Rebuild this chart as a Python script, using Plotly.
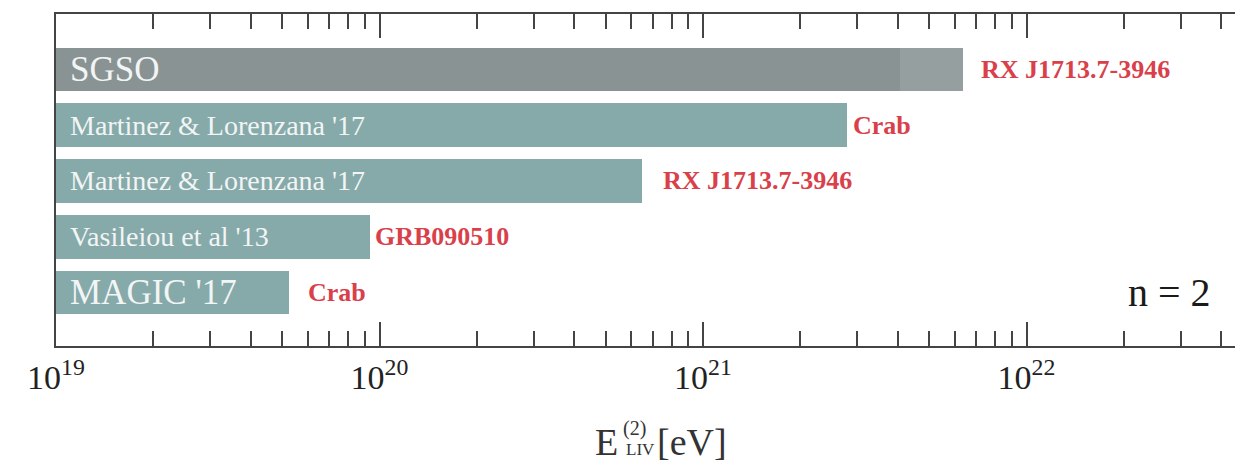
import plotly.graph_objects as go
import numpy as np

# ---- data (bottom to top) ----
labels = ["MAGIC '17", "Vasileiou et al '13", "Martinez & Lorenzana '17",
          "Martinez & Lorenzana '17", "SGSO"]
sources = ["Crab", "GRB090510", "RX J1713.7-3946", "Crab", "RX J1713.7-3946"]
e_liv = [5.25e19, 9.35e19, 6.48e20, 2.79e21, 4.06e21]
sgso_extended = 6.37e21
decades = [19, 20, 21, 22]

# ---- styles ----
base = 1e19
label_sizes = [35, 28, 28, 28, 35]
source_gaps = [17, 3, 19, 4, 16]
bar_colors = ["#86aaa9", "#86aaa9", "#86aaa9", "#86aaa9", "#8a9393"]
serif = "Liberation Serif, Times New Roman, serif"
axis_col = "#444444"

PAGE_OFF = 8          # default body margin of the html page
W, H = 1243 - PAGE_OFF, 466 - PAGE_OFF
L, R, T, B = 56 - PAGE_OFF, 0, 14 - PAGE_OFF, 120
decade_px = 323.5
xmax = 19 + (W - L - R) / decade_px

ypos = list(range(len(labels)))

fig = go.Figure()
# extended (lighter) part of SGSO
fig.add_trace(go.Bar(
    y=[ypos[-1]], x=[sgso_extended - base], base=[base], orientation="h",
    marker=dict(color="#959f9f", line=dict(width=0)), width=0.78,
    showlegend=False, hoverinfo="skip"))
fig.add_trace(go.Bar(
    y=ypos, x=[v - base for v in e_liv], base=[base] * len(e_liv), orientation="h",
    marker=dict(color=bar_colors, line=dict(width=0)), width=0.78,
    showlegend=False))

ends = list(e_liv)
ends[-1] = sgso_extended
for i, (lab, src) in enumerate(zip(labels, sources)):
    fig.add_annotation(x=np.log10(base), y=ypos[i], xref="x", yref="y",
                       text=lab, showarrow=False, xanchor="left", xshift=12,
                       font=dict(family=serif, size=label_sizes[i], color="#f2f5f5"))
    fig.add_annotation(x=np.log10(ends[i]), y=ypos[i], xref="x", yref="y",
                       text="<b>" + src + "</b>", showarrow=False, xanchor="left",
                       xshift=source_gaps[i],
                       font=dict(family=serif, size=26, color="#d9404a"))


# page pixel -> paper coords (plot spans x 56..1243 px, y 14..346 px on the page)
def px_x(p):
    return (p - 56) / (1243 - 56)


def px_y(p):
    return (346 - p) / (346 - 14)


fig.add_annotation(x=px_x(1169), y=ypos[0], xref="paper", yref="y", text="n = 2",
                   xanchor="center", yanchor="middle",
                   showarrow=False, font=dict(family=serif, size=40, color="#1a1a1a"))

# axis title  E^(2)_LIV [eV]
title_parts = [("E", 606, 442, 38), ("(2)", 634, 428, 20),
               ("LIV", 640, 450, 17), ("[eV]", 692, 442, 38)]
for txt, xp, yp, sz in title_parts:
    fig.add_annotation(x=px_x(xp), y=px_y(yp), xref="paper", yref="paper", text=txt,
                       xanchor="center", yanchor="middle", showarrow=False,
                       font=dict(family=serif, size=sz, color="#333"))

major_vals = [10.0 ** d for d in decades]
major_text = ["10<sup>%d</sup>" % d for d in decades]
minor_vals = [m * 10.0 ** d for d in decades for m in range(2, 10)]

fig.update_layout(
    width=W, height=H, margin=dict(l=L, r=R, t=T, b=B, autoexpand=False),
    paper_bgcolor="white", plot_bgcolor="white",
    barmode="overlay", bargap=0,
    xaxis=dict(type="log", range=[19, xmax], showgrid=False, zeroline=False,
               automargin=False,
               tickvals=major_vals, ticktext=major_text,
               ticks="inside", ticklen=24, tickwidth=2, tickcolor=axis_col,
               showline=True, linewidth=2, linecolor=axis_col, mirror="ticks",
               tickfont=dict(family=serif, size=34, color="#222"),
               minor=dict(tickvals=minor_vals, ticks="inside", ticklen=15,
                          tickwidth=1.5, tickcolor=axis_col, showgrid=False)),
    yaxis=dict(range=[-0.955, 4.99], showgrid=False, zeroline=False,
               automargin=False,
               showticklabels=False, ticks="", showline=True, linewidth=2,
               linecolor=axis_col),
)

fig.write_html("out.html")
